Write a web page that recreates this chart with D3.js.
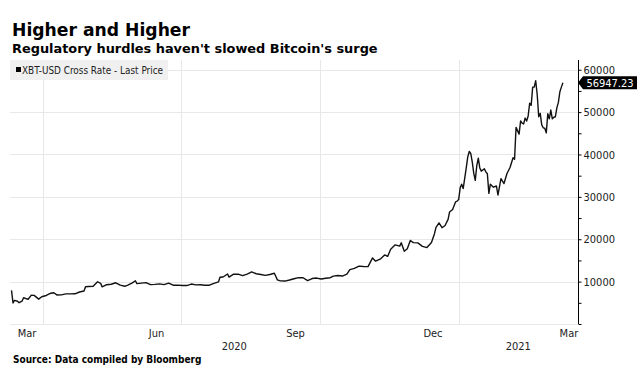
<!DOCTYPE html>
<html>
<head>
<meta charset="utf-8">
<script src="https://cdn.jsdelivr.net/npm/d3@7"></script>
<style>
  body { margin: 0; background: #fff; }
  svg { display: block; }
  text { font-family: "DejaVu Sans Condensed", "DejaVu Sans", sans-serif; }
</style>
</head>
<body>
<div id="chart"></div>
<script>
// XBT-USD cross rate, last price
const dates = [
  '2020-03-11', '2020-03-12', '2020-03-13', '2020-03-15', '2020-03-16', '2020-03-18', '2020-03-19',
  '2020-03-22', '2020-03-24', '2020-03-26', '2020-03-29', '2020-03-31', '2020-04-03', '2020-04-06',
  '2020-04-08', '2020-04-10', '2020-04-13', '2020-04-16', '2020-04-19', '2020-04-22', '2020-04-25',
  '2020-04-28', '2020-04-29', '2020-05-01', '2020-05-04', '2020-05-07', '2020-05-09', '2020-05-10',
  '2020-05-13', '2020-05-16', '2020-05-19', '2020-05-22', '2020-05-25', '2020-05-27', '2020-05-30',
  '2020-06-01', '2020-06-02', '2020-06-05', '2020-06-08', '2020-06-11', '2020-06-14', '2020-06-17',
  '2020-06-20', '2020-06-23', '2020-06-26', '2020-06-29', '2020-07-02', '2020-07-05', '2020-07-08',
  '2020-07-11', '2020-07-14', '2020-07-17', '2020-07-20', '2020-07-23', '2020-07-26', '2020-07-27',
  '2020-07-29', '2020-08-01', '2020-08-02', '2020-08-05', '2020-08-08', '2020-08-11', '2020-08-14',
  '2020-08-17', '2020-08-20', '2020-08-23', '2020-08-26', '2020-08-29', '2020-09-01', '2020-09-03',
  '2020-09-05', '2020-09-08', '2020-09-11', '2020-09-14', '2020-09-17', '2020-09-20', '2020-09-23',
  '2020-09-26', '2020-09-29', '2020-10-02', '2020-10-05', '2020-10-08', '2020-10-10', '2020-10-13',
  '2020-10-16', '2020-10-19', '2020-10-21', '2020-10-24', '2020-10-27', '2020-10-30', '2020-11-02',
  '2020-11-05', '2020-11-07', '2020-11-10', '2020-11-13', '2020-11-15', '2020-11-17', '2020-11-20',
  '2020-11-23', '2020-11-24', '2020-11-26', '2020-11-28', '2020-11-30', '2020-12-02', '2020-12-05',
  '2020-12-08', '2020-12-11', '2020-12-14', '2020-12-16', '2020-12-17', '2020-12-19', '2020-12-21',
  '2020-12-23', '2020-12-25', '2020-12-26', '2020-12-28', '2020-12-30', '2020-12-31', '2021-01-01',
  '2021-01-02', '2021-01-03', '2021-01-04', '2021-01-06', '2021-01-07', '2021-01-08', '2021-01-09',
  '2021-01-10', '2021-01-11', '2021-01-12', '2021-01-13', '2021-01-14', '2021-01-15', '2021-01-16',
  '2021-01-18', '2021-01-19', '2021-01-20', '2021-01-21', '2021-01-22', '2021-01-24', '2021-01-26',
  '2021-01-27', '2021-01-29', '2021-01-31', '2021-02-02', '2021-02-04', '2021-02-06', '2021-02-07',
  '2021-02-08', '2021-02-10', '2021-02-11', '2021-02-12', '2021-02-13', '2021-02-14', '2021-02-15',
  '2021-02-16', '2021-02-17', '2021-02-18', '2021-02-19', '2021-02-20', '2021-02-21', '2021-02-22',
  '2021-02-23', '2021-02-24', '2021-02-25', '2021-02-26', '2021-02-27', '2021-02-28', '2021-03-01',
  '2021-03-02', '2021-03-03', '2021-03-04', '2021-03-05', '2021-03-06', '2021-03-07', '2021-03-08',
  '2021-03-09', '2021-03-10', '2021-03-11'
]
const prices = [
  7930, 4970, 5560, 5360, 5030, 5420, 6190,
  5830, 6770, 6750, 5880, 6420, 6730, 7270,
  7370, 6860, 6880, 7100, 7120, 7130, 7550,
  7790, 8800, 8860, 8890, 9970, 9600, 8760,
  9270, 9380, 9730, 9170, 8900, 9180, 9700,
  10200, 9520, 9650, 9770, 9280, 9340, 9460,
  9300, 9630, 9150, 9180, 9090, 9070, 9430,
  9230, 9250, 9150, 9160, 9600, 9930, 11030,
  11100, 11800, 11070, 11750, 11770, 11400, 11770,
  12290, 11860, 11680, 11470, 11680, 11970, 10420,
  10170, 10130, 10390, 10680, 10940, 10920, 10240,
  10730, 10840, 10620, 10790, 10930, 11300, 11430,
  11320, 11750, 12820, 13120, 13650, 13560, 13550,
  15590, 14830, 15300, 16300, 15960, 17650, 18680,
  18370, 19160, 17150, 17740, 19700, 19200, 19150,
  18320, 18040, 19250, 21310, 22800, 23860, 22720,
  23240, 24700, 26440, 27040, 28840, 29000, 29370,
  32130, 33000, 31970, 36770, 39380, 40700, 40240,
  38240, 35550, 33900, 37370, 39150, 36830, 36070,
  36630, 35890, 35470, 30830, 33000, 32290, 32570,
  30440, 34300, 33140, 35510, 36930, 39250, 38900,
  46400, 44800, 47900, 47400, 47200, 48600, 47900,
  49100, 52100, 51600, 55900, 55900, 57400, 54100,
  48900, 49700, 47000, 46300, 46200, 45100, 49600,
  48400, 50500, 48400, 48800, 48900, 51000, 52300,
  54800, 55900, 56947.23
]
const yTicks = [10000, 20000, 30000, 40000, 50000, 60000]
const monthLabels = ['Mar', 'Jun', 'Sep', 'Dec', 'Mar']
const monthLabelDates = ['2020-03-15', '2020-06-15', '2020-09-15', '2020-12-15', '2021-03-15']
const gridDates = ['2020-04-01', '2020-07-01', '2020-10-01', '2021-01-01']
const years = ['2020', '2021']

const parse = d3.timeParse('%Y-%m-%d')
const series = dates.map((d, i) => ({ date: parse(d), value: prices[i] }))
const last = series[series.length - 1]

const width = 639
const height = 391
const plotLeft = 10
const plotRight = 578
const plotTop = 60
const plotBottom = 324

const svg = d3.select('#chart')
  .append('svg')
  .attr('width', width)
  .attr('height', height)

const x = d3.scaleTime()
  .domain([parse('2020-03-10'), parse('2021-03-21')])
  .range([plotLeft, plotRight])
const y = d3.scaleLinear()
  .domain([0, 62300])
  .range([plotBottom, plotTop])

// titles
svg.append('text')
  .attr('x', 12).attr('y', 36)
  .style('font-family', '"DejaVu Sans", sans-serif')
  .style('font-weight', 'bold')
  .style('font-size', '17.2px')
  .text('Higher and Higher')
svg.append('text')
  .attr('x', 12).attr('y', 53)
  .style('font-family', '"DejaVu Sans", sans-serif')
  .style('font-weight', 'bold')
  .style('font-size', '12.9px')
  .text("Regulatory hurdles haven't slowed Bitcoin's surge")

// grid
const grid = svg.append('g').attr('stroke', '#e8e8e8').attr('stroke-width', 1)
grid.selectAll('line.h')
  .data(yTicks)
  .join('line')
  .attr('class', 'h')
  .attr('x1', plotLeft).attr('x2', plotRight)
  .attr('y1', d => Math.round(y(d)) + 0.5)
  .attr('y2', d => Math.round(y(d)) + 0.5)
grid.selectAll('line.v')
  .data(gridDates.map(parse))
  .join('line')
  .attr('class', 'v')
  .attr('x1', d => Math.round(x(d)) + 0.5)
  .attr('x2', d => Math.round(x(d)) + 0.5)
  .attr('y1', plotTop).attr('y2', plotBottom)
grid.append('line')
  .attr('x1', plotLeft).attr('x2', plotRight)
  .attr('y1', plotBottom + 0.5).attr('y2', plotBottom + 0.5)

// legend
svg.append('rect')
  .attr('x', 10).attr('y', 60)
  .attr('width', 158).attr('height', 20)
  .attr('fill', '#f0f0f0')
svg.append('rect')
  .attr('x', 16).attr('y', 67)
  .attr('width', 5).attr('height', 5)
  .attr('fill', '#000')
svg.append('text')
  .attr('x', 22).attr('y', 73.5)
  .style('font-size', '9.9px')
  .attr('fill', '#222')
  .text('XBT-USD Cross Rate - Last Price')

// price line
const line = d3.line()
  .x(d => x(d.date))
  .y(d => y(d.value))
svg.append('path')
  .datum(series)
  .attr('fill', 'none')
  .attr('stroke', '#111')
  .attr('stroke-width', 1.4)
  .attr('stroke-linejoin', 'round')
  .attr('d', line)

// right axis
const yAxis = d3.axisRight(y)
  .tickValues(d3.range(0, 60001, 5000))
  .tickSize(3)
  .tickPadding(2)
  .tickFormat(d => (d > 0 && d % 10000 === 0) ? d : '')
const ax = svg.append('g')
  .attr('transform', `translate(${plotRight + 0.5},0)`)
  .call(yAxis)
ax.select('.domain').attr('stroke', '#000').attr('d', `M0,${plotTop}V${plotBottom}`)
ax.selectAll('.tick line').attr('stroke', '#000')
ax.selectAll('.tick text')
  .style('font-family', '"DejaVu Sans Condensed", sans-serif')
  .style('font-size', '11px')
  .attr('fill', '#222')

// last price tag
const ly = y(last.value)
const tag = svg.append('g').attr('transform', `translate(${plotRight},${ly})`)
tag.append('path')
  .attr('d', 'M0,0L5,-6.5H59V6.5H5Z')
  .attr('fill', '#000')
tag.append('text')
  .attr('x', 32).attr('y', 4)
  .attr('text-anchor', 'middle')
  .attr('fill', '#fff')
  .style('font-size', '11px')
  .text(d3.format('.2f')(last.value))

// x labels
svg.append('g')
  .selectAll('text')
  .data(monthLabels)
  .join('text')
  .attr('x', (d, i) => Math.max(x(parse(monthLabelDates[i])), 27))
  .attr('y', 337)
  .attr('text-anchor', 'middle')
  .style('font-size', '11px')
  .attr('fill', '#222')
  .text(d => d)
const yearSplit = x(parse('2021-01-01'))
svg.append('g')
  .selectAll('text')
  .data(years)
  .join('text')
  .attr('x', (d, i) => i === 0 ? (plotLeft + yearSplit) / 2 : (yearSplit + plotRight) / 2)
  .attr('y', 350)
  .attr('text-anchor', 'middle')
  .style('font-size', '11px')
  .attr('fill', '#222')
  .text(d => d)

// source
svg.append('text')
  .attr('x', 13).attr('y', 363)
  .style('font-family', '"DejaVu Sans Condensed", sans-serif')
  .style('font-weight', 'bold')
  .style('font-size', '10px')
  .text('Source: Data compiled by Bloomberg')
</script>
</body>
</html>
